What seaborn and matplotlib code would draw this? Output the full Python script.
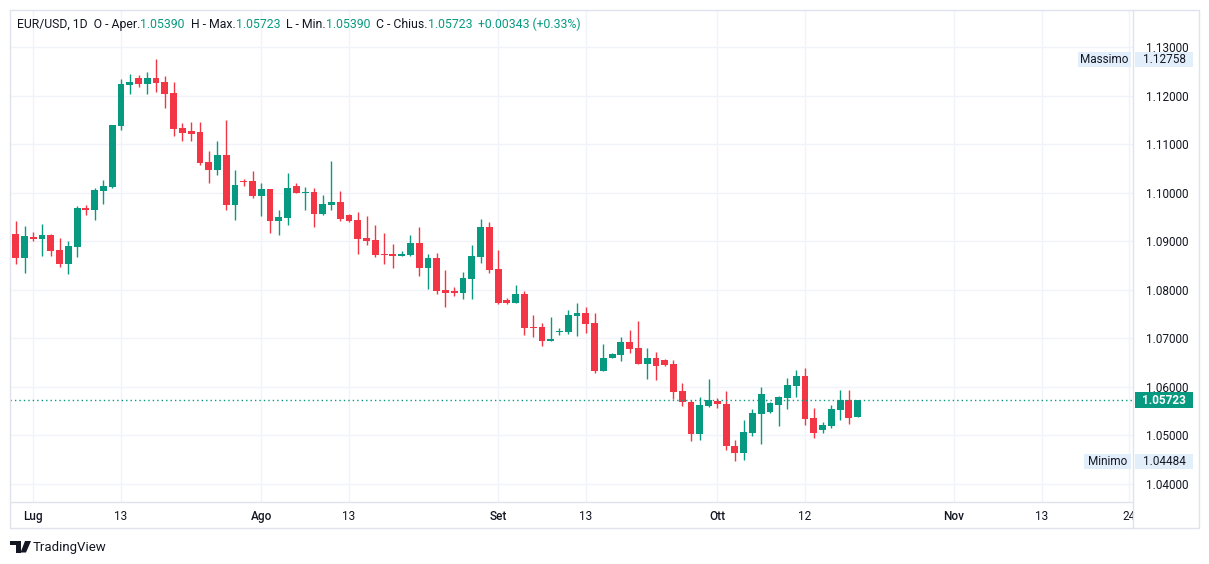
#!/usr/bin/env python3
"""EUR/USD daily candles (Jul - Oct 2023), TradingView-style snapshot."""
import matplotlib

matplotlib.use("Agg")
import matplotlib.pyplot as plt
import numpy as np
import pandas as pd
import seaborn as sns
from matplotlib.patches import Polygon, Rectangle

# bars from 28 Jun 2023 to 19 Oct 2023 (feed has Sunday bars, no Saturdays)
FIRST_DAY = "2023-06-28"
opens = [
    1.0958, 1.0915, 1.0866, 1.0909, 1.0905, 1.0913, 1.0882, 1.0854, 1.0888, 1.0968,
    1.0964, 1.1004, 1.1012, 1.1137, 1.1222, 1.1236, 1.1224, 1.1236, 1.1228, 1.1205,
    1.1133, 1.1127, 1.1125, 1.1063, 1.1047, 1.1078, 1.0975, 1.1024, 1.1024, 1.0993,
    1.1008, 1.0942, 1.0948, 1.1014, 1.0999, 1.1001, 1.0957, 1.0975, 1.0981, 1.0954,
    1.0944, 1.0907, 1.0903, 1.0874, 1.0874, 1.0870, 1.0872, 1.0896, 1.0845, 1.0866,
    1.0800, 1.0797, 1.0793, 1.0822, 1.0868, 1.0929, 1.0843, 1.0779, 1.0773, 1.0791,
    1.0723, 1.0723, 1.0695, 1.0713, 1.0713, 1.0746, 1.0752, 1.0732, 1.0633, 1.0660,
    1.0666, 1.0693, 1.0680, 1.0647, 1.0660, 1.0655, 1.0647, 1.0592, 1.0569, 1.0503,
    1.0561, 1.0570, 1.0565, 1.0478, 1.0463, 1.0506, 1.0545, 1.0548, 1.0563, 1.0577,
    1.0602, 1.0623, 1.0536, 1.0511, 1.0520, 1.0553, 1.0573, 1.05390,
]
highs = [
    1.0962, 1.0942, 1.0931, 1.0919, 1.0935, 1.0915, 1.0907, 1.0901, 1.0973, 1.0975,
    1.1010, 1.1026, 1.1140, 1.1234, 1.1244, 1.1242, 1.1249, 1.12758, 1.1240, 1.1228,
    1.1144, 1.1146, 1.1146, 1.1086, 1.1106, 1.1150, 1.1047, 1.1028, 1.1045, 1.1020,
    1.1008, 1.0964, 1.1041, 1.1020, 1.1012, 1.1010, 1.0995, 1.1065, 1.1004, 1.0957,
    1.0960, 1.0952, 1.0933, 1.0917, 1.0894, 1.0880, 1.0913, 1.0930, 1.0874, 1.0876,
    1.0841, 1.0806, 1.0837, 1.0892, 1.0946, 1.0940, 1.0882, 1.0783, 1.0810, 1.0798,
    1.0748, 1.0732, 1.0744, 1.0721, 1.0758, 1.0773, 1.0765, 1.0752, 1.0688, 1.0670,
    1.0703, 1.0717, 1.0736, 1.0680, 1.0672, 1.0658, 1.0656, 1.0608, 1.0573, 1.0579,
    1.0616, 1.0577, 1.0592, 1.0490, 1.0532, 1.0555, 1.0600, 1.0569, 1.0581, 1.0618,
    1.0635, 1.0639, 1.0556, 1.0528, 1.0563, 1.0594, 1.0594, 1.05723,
]
lows = [
    1.0902, 1.0854, 1.0835, 1.0900, 1.0870, 1.0870, 1.0847, 1.0833, 1.0868, 1.0954,
    1.0944, 1.0977, 1.1010, 1.1129, 1.1203, 1.1218, 1.1203, 1.1207, 1.1174, 1.1117,
    1.1106, 1.1106, 1.1057, 1.1020, 1.1036, 1.0964, 1.0944, 1.1014, 1.0989, 1.0952,
    1.0917, 1.0913, 1.0933, 1.0999, 1.0964, 1.0930, 1.0954, 1.0964, 1.0942, 1.0940,
    1.0874, 1.0892, 1.0868, 1.0853, 1.0845, 1.0870, 1.0870, 1.0828, 1.0802, 1.0791,
    1.0765, 1.0787, 1.0781, 1.0781, 1.0855, 1.0835, 1.0771, 1.0771, 1.0773, 1.0707,
    1.0703, 1.0684, 1.0695, 1.0707, 1.0709, 1.0705, 1.0711, 1.0629, 1.0633, 1.0660,
    1.0653, 1.0670, 1.0647, 1.0616, 1.0614, 1.0643, 1.0575, 1.0561, 1.0489, 1.0491,
    1.0559, 1.0557, 1.0470, 1.04484, 1.0450, 1.0499, 1.0483, 1.0546, 1.0520, 1.0555,
    1.0579, 1.0522, 1.0495, 1.0505, 1.0515, 1.0532, 1.0524, 1.05390,
]
closes = [
    1.0912, 1.0866, 1.0911, 1.0905, 1.0913, 1.0880, 1.0854, 1.0890, 1.0969, 1.0965,
    1.1006, 1.1014, 1.1139, 1.1224, 1.1228, 1.1224, 1.1236, 1.1226, 1.1203, 1.1131,
    1.1123, 1.1121, 1.1061, 1.1047, 1.1078, 1.0975, 1.1016, 1.1022, 1.0993, 1.1008,
    1.0942, 1.0950, 1.1010, 1.0999, 1.1001, 1.0957, 1.0977, 1.0981, 1.0946, 1.0942,
    1.0905, 1.0901, 1.0872, 1.0872, 1.0870, 1.0874, 1.0896, 1.0845, 1.0866, 1.0798,
    1.0793, 1.0793, 1.0824, 1.0870, 1.0929, 1.0841, 1.0773, 1.0773, 1.0791, 1.0721,
    1.0721, 1.0695, 1.0699, 1.0715, 1.0748, 1.0752, 1.0730, 1.0633, 1.0660, 1.0668,
    1.0693, 1.0678, 1.0647, 1.0660, 1.0643, 1.0645, 1.0590, 1.0569, 1.0503, 1.0563,
    1.0573, 1.0564, 1.0479, 1.0463, 1.0507, 1.0546, 1.0585, 1.0567, 1.0579, 1.0604,
    1.0623, 1.0534, 1.0505, 1.0522, 1.0555, 1.0573, 1.0536, 1.05723,
]

time_ticks = ["2023-07-02", "2023-07-13", "2023-08-01", "2023-08-13", "2023-09-01",
              "2023-09-13", "2023-10-01", "2023-10-12", "2023-11-01", "2023-11-13",
              "2023-11-24"]
time_labels = ["Lug", "13", "Ago", "13", "Set", "13", "Ott", "12", "Nov", "13", "24"]
month_labels = {"Lug", "Ago", "Set", "Ott", "Nov"}
price_ticks = [1.04, 1.05, 1.06, 1.07, 1.08, 1.09, 1.10, 1.11, 1.12, 1.13]

last_price = 1.05723
max_price = 1.12758
min_price = 1.04484

header = [
    ("EUR/USD, 1D  O - Aper.", "dark"), ("1.05390", "up"),
    ("  H - Max.", "dark"), ("1.05723", "up"),
    ("  L - Min.", "dark"), ("1.05390", "up"),
    ("  C - Chius.", "dark"), ("1.05723", "up"),
    ("  +0.00343 (+0.33%)", "up"),
]

UP = "#089981"
DOWN = "#F23645"
DARK = "#131722"
GRID = "#F0F3FA"
FRAME = "#E0E3EB"
LABEL_BG = "#E3EEFB"
W, H = 1209, 564

sns.set_theme(style="white")
plt.rcParams["font.family"] = ["Roboto", "DejaVu Sans"]


def fx(px):
    return px / W


def fy(py):
    return 1 - py / H


def fig_box(fig, x0, y0, x1, y1, color, z=2):
    fig.patches.append(Rectangle((fx(x0), fy(y1)), fx(x1) - fx(x0), fy(y0) - fy(y1),
                                 transform=fig.transFigure, facecolor=color,
                                 edgecolor="none", zorder=z))


def fig_line(fig, xs, ys, z=3):
    fig.add_artist(plt.Line2D([fx(v) for v in xs], [fy(v) for v in ys],
                              color=FRAME, lw=1, zorder=z))


# bar positions: every calendar day except Saturday
days = pd.date_range(FIRST_DAY, "2023-11-30", freq="D")
days = days[days.dayofweek != 5]
pos = {d: i for i, d in enumerate(days)}
df = pd.DataFrame({"open": opens, "high": highs, "low": lows, "close": closes})
df["x"] = np.arange(len(df))
df["up"] = df["close"] >= df["open"]
df["color"] = np.where(df["up"], UP, DOWN)

fig = plt.figure(figsize=(W / 100, H / 100), dpi=100)
fig.patch.set_facecolor("white")
ax = fig.add_axes([fx(10), fy(502), fx(1133) - fx(10), fy(10) - fy(502)])
ax.set_facecolor("white")

ax.set_xlim(0.343, 128.4)
ax.set_ylim(1.0363, 1.13762)

tick_x = [pos[pd.Timestamp(t)] for t in time_ticks]
for v in tick_x:
    ax.axvline(v, color=GRID, lw=1, zorder=0)
for v in price_ticks:
    ax.axhline(v, color=GRID, lw=1, zorder=0)

ax.vlines(df["x"], df["low"], df["high"], colors=df["color"], lw=1, zorder=2)
body = np.maximum((df["close"] - df["open"]).abs(), 0.00007)
ax.bar(df["x"], body, bottom=np.minimum(df["open"], df["close"]), width=0.78,
       color=df["color"], linewidth=0, zorder=3)

ax.axhline(last_price, color=UP, lw=1, ls=(0, (1, 2.2)), zorder=4)

ax.set_xticks(tick_x)
ax.set_xticklabels(time_labels)
for lab in ax.get_xticklabels():
    if lab.get_text() in month_labels:
        lab.set_fontweight("medium")
ax.yaxis.tick_right()
ax.set_yticks(price_ticks)
ax.set_yticklabels([f"{v:.5f}" for v in price_ticks])
ax.tick_params(axis="x", length=0, pad=6, labelsize=8.5, labelcolor=DARK)
ax.tick_params(axis="y", length=0, pad=9.5, labelsize=8.5, labelcolor=DARK)
ax.grid(False)
sns.despine(ax=ax, left=True, bottom=True, right=True, top=True)

# frame, separators, corner patch over the cut "24"
fig_box(fig, 1134, 503, 1198, 527, "white", z=1.5)
fig_line(fig, [10, 1199, 1199, 10, 10], [10, 10, 528, 528, 10])
fig_line(fig, [1133, 1133], [10, 528])
fig_line(fig, [10, 1133], [502, 502])

# price scale labels
yl = H - ax.transData.transform((0, last_price))[1]
fig_box(fig, 1135, yl - 8, 1193, yl + 8, UP)
fig.text(fx(1164), fy(yl), f"{last_price:.5f}", color="white", fontsize=8.5,
         fontweight="bold", ha="center", va="center", zorder=4)

for name, val, nx in (("Massimo", max_price, 1078), ("Minimo", min_price, 1084)):
    yv = H - ax.transData.transform((0, val))[1] + 1
    fig_box(fig, nx, yv - 7.5, 1131, yv + 7.5, LABEL_BG)
    fig_box(fig, 1135, yv - 7.5, 1193, yv + 7.5, LABEL_BG)
    fig.text(fx((nx + 1131) / 2), fy(yv), name, color=DARK, fontsize=8.5,
             ha="center", va="center", zorder=4)
    fig.text(fx(1164), fy(yv), f"{val:.5f}", color=DARK, fontsize=8.5,
             ha="center", va="center", zorder=4)

# header legend
prev = fig.text(fx(17), fy(24.5), header[0][0], color=DARK, fontsize=8.8,
                ha="left", va="center", zorder=5)
for text, kind in header[1:]:
    prev = ax.annotate(text, xy=(1, 0), xycoords=prev, xytext=(0, 0),
                       textcoords="offset points", ha="left", va="bottom",
                       color=UP if kind == "up" else DARK, fontsize=8.8,
                       annotation_clip=False, zorder=5)

# TradingView logo
fig.patches.append(Polygon([(fx(10), fy(541)), (fx(21), fy(541)), (fx(21), fy(552.5)),
                            (fx(16), fy(552.5)), (fx(16), fy(545)), (fx(10), fy(545))],
                           closed=True, transform=fig.transFigure, fc=DARK, ec="none"))
fig.patches.append(Polygon([(fx(25), fy(541)), (fx(31), fy(541)), (fx(26), fy(552.5)),
                            (fx(20.5), fy(552.5))],
                           closed=True, transform=fig.transFigure, fc=DARK, ec="none"))
fig.text(fx(33), fy(547), "TradingView", color=DARK, fontsize=9.5,
         ha="left", va="center")

fig.savefig("out.png", dpi=100, facecolor="white")
